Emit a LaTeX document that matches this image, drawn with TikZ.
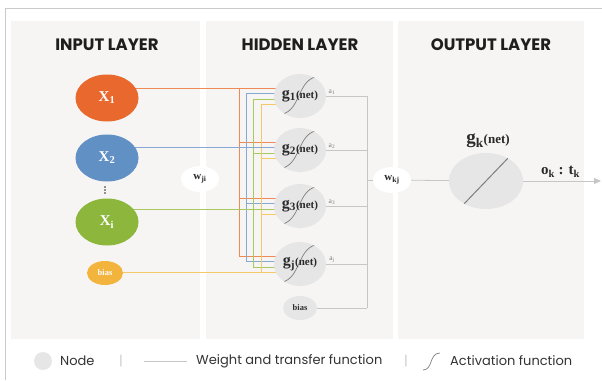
\documentclass[tikz,border=0pt]{standalone}
\usepackage{fontspec}
\setmainfont{Poppins}
\newfontfamily\lserif{Liberation Serif}
\usetikzlibrary{calc,arrows.meta,shapes.geometric}

\definecolor{panel}{HTML}{F6F5F3}
\definecolor{xorange}{HTML}{E8682D}
\definecolor{xblue}{HTML}{6190C5}
\definecolor{xgreen}{HTML}{8CB73C}
\definecolor{xyellow}{HTML}{F3B43E}
\definecolor{lorange}{HTML}{EF8A55}
\definecolor{lblue}{HTML}{86A8D4}
\definecolor{lgreen}{HTML}{A6CA5E}
\definecolor{lyellow}{HTML}{F5C868}
\definecolor{hnode}{HTML}{E7E6E6}
\definecolor{rulec}{HTML}{CACACA}
\definecolor{wirec}{HTML}{C6C6C6}
\definecolor{actc}{HTML}{7E7E7E}
\definecolor{titc}{HTML}{1E1E1E}
\definecolor{labc}{HTML}{2A2A2A}
\definecolor{alc}{HTML}{7A7A7A}
\definecolor{lgc}{HTML}{333333}

\newcommand\gnet[3]{{\fontsize{#2}{#2}\selectfont g\textsubscript{#1}}{\fontsize{#3}{#3}\selectfont(net)}}

\pgfdeclarelayer{panels}
\pgfdeclarelayer{wires}
\pgfsetlayers{panels,wires,main}

\tikzset{
  title/.style={font=\bfseries\fontsize{16.5}{18}\selectfont, text=titc, inner sep=0},
  innode/.style={ellipse, fill=#1, minimum width=63, minimum height=47, inner sep=0,
    text=white, font=\lserif\bfseries\fontsize{15}{15}\selectfont},
  biasin/.style={ellipse, fill=xyellow, minimum width=36, minimum height=24, inner sep=0,
    text=white, font=\lserif\bfseries\fontsize{8.5}{8.5}\selectfont},
  hid/.style={ellipse, fill=hnode, minimum width=52, minimum height=44, inner sep=0,
    text=labc, font=\lserif\bfseries,
    path picture={\coordinate (pc) at (path picture bounding box.center);
      \draw[actcurve] ($(pc)+(-24,19)$) .. controls ($(pc)+(4,19)$) and ($(pc)+(-6,-20)$) .. ($(pc)+(22,-20)$);}},
  hbias/.style={ellipse, fill=hnode, minimum width=34, minimum height=24, inner sep=0,
    text=labc, font=\lserif\bfseries\fontsize{8.5}{8.5}\selectfont},
  wnode/.style={ellipse, fill=white, minimum width=38, minimum height=26, inner sep=0,
    text=labc, font=\lserif\bfseries\fontsize{11}{11}\selectfont},
  outn/.style={ellipse, fill=hnode, minimum width=74, minimum height=56,
    path picture={\coordinate (pc) at (path picture bounding box.center);
      \draw[actc, line width=1] ($(pc)+(-24,25)$) -- ($(pc)+(24,-25)$);}},
  alab/.style={text=alc, font=\lserif\fontsize{7.5}{7.5}\selectfont, inner sep=1},
  actcurve/.style={draw=actc, line width=0.7},
  gw/.style={draw=wirec, line width=0.8},
  wor/.style={draw=lorange, line width=0.9},
  wbl/.style={draw=lblue, line width=0.9},
  wgr/.style={draw=lgreen, line width=0.9},
  wye/.style={draw=lyellow, line width=0.9},
  lgtxt/.style={text=lgc, font=\fontsize{13}{15}\selectfont, inner sep=0, anchor=west},
  lgsep/.style={text=rulec, font=\fontsize{13}{14}\selectfont, inner sep=0},
}

\begin{document}
\begin{tikzpicture}[x=1pt, y=-1pt]
\useasboundingbox (0,0) rectangle (602,380);

\begin{pgfonlayer}{panels}
\fill[panel] (11,21) rectangle (200,339);
\fill[panel] (206,21) rectangle (393,339);
\fill[panel] (398,21) rectangle (584,339);
\draw[rulec, line width=0.8] (5,380) -- (5,8) -- (602,8);
\end{pgfonlayer}

\node[title] (tin) at (107,45) {INPUT LAYER};
\node[title] (thid) at (300,45) {HIDDEN LAYER};
\node[title] (tout) at (491,45) {OUTPUT LAYER};

\node[innode=xorange] (X1) at (107,98) {X\textsubscript{1}};
\node[innode=xblue] (X2) at (107,158) {X\textsubscript{2}};
\foreach \y in {187,190,193}
  \fill[labc] (105,\y) circle (0.8);
\node[innode=xgreen] (Xi) at (107,222) {X\textsubscript{i}};
\node[biasin] (b1) at (105,273) {bias};

\node[wnode] (wji) at (200,179) {w\textsubscript{ji}};

\node[hid] (g1) at (300,96) {\gnet{1}{16}{11}};
\node[hid] (g2) at (300,150) {\gnet{2}{16}{11}};
\node[hid] (g3) at (300,206) {\gnet{3}{16}{11}};
\node[hid] (gj) at (300,264) {\gnet{j}{16}{11}};
\node[hbias] (b2) at (300,308) {bias};

\node[wnode] (wkj) at (392,180) {w\textsubscript{kj}};
\node[outn] (gk) at (486,181) {};
\node[text=labc, font=\lserif\bfseries, inner sep=0] (gkl) at (488,141) {\gnet{k}{19}{13}};
\coordinate (outend) at (601,181);

\coordinate (bor) at (239,0);
\coordinate (bbl) at (246,0);
\coordinate (bgr) at (253,0);
\coordinate (bye) at (261,0);
\coordinate (col) at (367,0);

\begin{pgfonlayer}{wires}
\foreach \b/\c/\o in {bor/wor/-8,bbl/wbl/-3,bgr/wgr/3,bye/wye/8}{
  \foreach \g in {g1,g2,g3,gj}
    \draw[\c] ($(\b |- \g)+(0,\o)$) -- ($(\g)+(0,\o)$);
  \draw[\c] ($(\b |- g1)+(0,\o)$) -- ($(\b |- gj)+(0,\o)$);
}
\draw[wor] ($(X1 |- g1)+(0,-8)$) -- ($(g1)+(0,-8)$);
\draw[wbl] ($(X2 |- g2)+(0,-3)$) -- ($(g2)+(0,-3)$);
\draw[wgr] ($(Xi |- g3)+(0,3)$) -- ($(g3)+(0,3)$);
\draw[wye] ($(b1 |- gj)+(0,8)$) -- ($(gj)+(0,8)$);
\end{pgfonlayer}

\foreach \g/\a in {g1/1,g2/2,g3/3,gj/j}
  \draw[gw] (\g) -- node[alab, pos=.14, above] {a\textsubscript{\a}} (col |- \g);
\draw[gw] (b2) -- (col |- b2);
\draw[gw] (col |- g1) -- (col |- b2);
\draw[gw] (col |- wkj) -- (wkj);
\draw[gw] (wkj) -- (gk);
\draw[gw, -{Triangle[length=7,width=6]}] (gk) -- node[above, pos=.48, text=labc, font=\lserif\bfseries\fontsize{15}{15}\selectfont] (olab) {o\textsubscript{k} : t\textsubscript{k}} (outend);

\node[circle, fill=hnode, minimum size=18, inner sep=0] (lgn) at (43,361) {};
\node[lgtxt] (lgt1) at (60,361) {Node};
\node[lgsep] (lgs1) at (121,361) {|};
\coordinate (lga) at (144,361);
\coordinate (lgb) at (187,361);
\draw[gw] (lga) -- (lgb);
\node[lgtxt] (lgt2) at (196,361) {Weight and transfer function};
\node[lgsep] (lgs2) at (406,361) {|};
\draw[actcurve] (423,370) .. controls (433,370) and (429,353) .. (440,353);
\node[lgtxt] (lgt3) at (450,361) {Activation function};
\end{tikzpicture}
\end{document}
